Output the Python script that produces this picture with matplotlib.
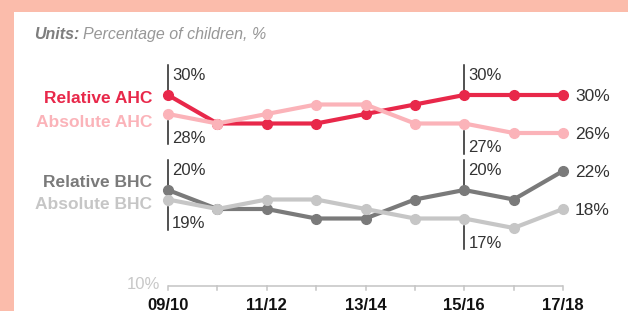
import matplotlib
matplotlib.use("Agg")
import matplotlib.pyplot as plt
import matplotlib.patches as patches

years = ["09/10", "10/11", "11/12", "12/13", "13/14", "14/15", "15/16", "16/17", "17/18"]
shown_years = ["09/10", "11/12", "13/14", "15/16", "17/18"]

rel_ahc = [30, 27, 27, 27, 28, 29, 30, 30, 30]
abs_ahc = [28, 27, 28, 29, 29, 27, 27, 26, 26]
rel_bhc = [20, 18, 18, 17, 17, 19, 20, 19, 22]
abs_bhc = [19, 18, 19, 19, 18, 17, 17, 16, 18]

series_names = ["Relative AHC", "Absolute AHC", "Relative BHC", "Absolute BHC"]
series_values = [rel_ahc, abs_ahc, rel_bhc, abs_bhc]
series_colors = ["#e8284a", "#fbb3b9", "#7a7a7a", "#c6c6c6"]

plt.rcParams["font.family"] = ["Liberation Sans", "DejaVu Sans"]

fig = plt.figure(figsize=(6.28, 3.11), dpi=100)
fig.patch.set_facecolor("#fbbcab")

ax = fig.add_axes([0, 0, 1, 1])
ax.set_facecolor("none")
ax.axis("off")
# white panel
ax.add_patch(patches.Rectangle((14 / 628, 0), 1, (311 - 12) / 311,
                               transform=fig.transFigure, facecolor="white",
                               edgecolor="none", zorder=0))
# pixel mapping: x index 0 -> 168px, step 49.375px; y 30% -> 95px, 9.5px per %
ax.set_xlim(-168 / 49.375, (628 - 168) / 49.375)
ax.set_ylim(30 - (311 - 95) / 9.5, 30 + 95 / 9.5)

px = 1 / 9.5  # one pixel in % units
xs = list(range(len(years)))

# baseline axis
ax.plot([0, len(years) - 1], [10 - px, 10 - px], color="#c4c4c4", lw=1.1,
        solid_capstyle="butt", zorder=1)
for i in xs:
    ax.plot([i, i], [10 - px, 10 - 5 * px], color="#c4c4c4", lw=1.1, zorder=1)
ax.text(-0.16, 10 - 4 * px, "10%", ha="right", va="baseline", fontsize=12,
        color="#c8c8c8")

for i, y in enumerate(years):
    if y in shown_years:
        ax.text(i, 30 - (310 - 95) * px, y, ha="center", va="baseline",
                fontsize=12, fontweight="bold", color="#111111")

# lines: relative first, absolute on top
for vals, col, z in zip(series_values, series_colors, [3, 4, 3, 4]):
    ax.plot(xs, vals, color=col, lw=3, marker="o", ms=7, zorder=z,
            solid_joinstyle="round")

# left labels
label_baseline = [103, 127, 187, 209]
for name, col, b in zip(series_names, series_colors, label_baseline):
    ax.text(-16 / 49.375, 30 - (b - 95) * px, name, ha="right", va="baseline",
            fontsize=12.5, fontweight="bold", color=col)

# end labels
for vals in series_values:
    ax.text(len(years) - 1 + 12 / 49.375, vals[-1] - 6 * px, f"{vals[-1]}%",
            ha="left", va="baseline", fontsize=12.5, color="#333333")

# callouts at 09/10 and 15/16
for idx in [0, 6]:
    for hi, lo in [(rel_ahc, abs_ahc), (rel_bhc, abs_bhc)]:
        top = hi[idx]
        bot = lo[idx]
        ax.plot([idx, idx], [top, top + 30 * px], color="#222222", lw=1.1, zorder=2)
        ax.text(idx + 4 / 49.375, top + 15 * px, f"{top}%", ha="left",
                va="baseline", fontsize=12, color="#333333")
        ax.plot([idx, idx], [bot - 7 * px, bot - 30 * px], color="#222222", lw=1.1,
                zorder=2)
        ax.text(idx + 4 / 49.375, bot - 29 * px, f"{bot}%", ha="left",
                va="baseline", fontsize=12, color="#333333")

# units line
units_y = 30 - (39 - 95) * px
t = ax.text(-134 / 49.375, units_y, "Units:", ha="left", va="baseline",
            fontsize=11.5, fontweight="bold", fontstyle="italic", color="#7e7e7e")
fig.canvas.draw()
bb = t.get_window_extent()
x_end = ax.transData.inverted().transform((bb.x1 + 4, 0))[0]
ax.text(x_end, units_y, "Percentage of children, %", ha="left", va="baseline",
        fontsize=11.5, fontstyle="italic", color="#979797")

fig.savefig("out.png", dpi=100, facecolor=fig.get_facecolor())
